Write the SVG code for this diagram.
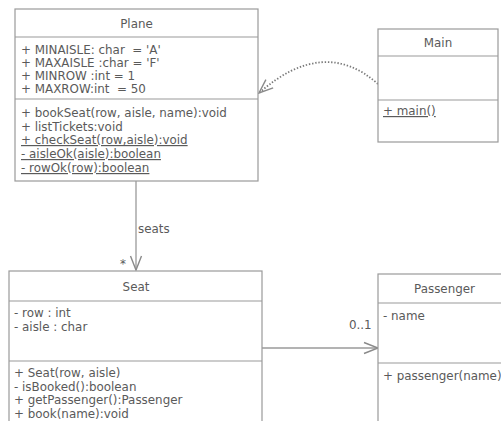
<svg xmlns="http://www.w3.org/2000/svg" width="501" height="421" viewBox="0 0 501 421">
  <style>
    .box { fill: #ffffff; stroke: #9a9a9a; stroke-width: 1.2; }
    .div { stroke: #9a9a9a; stroke-width: 1.2; }
    text { font-family: "DejaVu Sans", Verdana, sans-serif; font-size: 11.9px; fill: #5a5a5a; white-space: pre; }
    .title { text-anchor: middle; }
    .u { text-decoration: underline; text-decoration-skip-ink: none; }
    .conn { fill: none; stroke: #9a9a9a; stroke-width: 1.3; }
    .dep { fill: none; stroke: #7a7a7a; stroke-width: 1.8; stroke-dasharray: 1.4 1.8; }
  </style>
  <defs>
    <marker id="open" markerUnits="userSpaceOnUse" markerWidth="20" markerHeight="16" refX="0" refY="0" viewBox="-16 -8 20 16" orient="auto">
      <path d="M-14,-5.5 L0,0 L-14,5.5" fill="none" stroke="#8a8a8a" stroke-width="1.4"/>
    </marker>
  </defs>

  <rect width="501" height="421" fill="#ffffff"/>

  <!-- connectors -->
  <g id="connectors">
    <path class="dep" d="M378,84 Q324,36 259,93" marker-end="url(#open)"/>
    <line class="conn" x1="136" y1="181" x2="136" y2="270" marker-end="url(#open)"/>
    <text x="138" y="233">seats</text>
    <text x="120" y="268">*</text>
    <line class="conn" x1="262" y1="348" x2="378" y2="348" marker-end="url(#open)"/>
    <text x="349" y="329">0..1</text>
  </g>

  <!-- Plane class -->
  <g id="plane">
    <rect class="box" x="15" y="9" width="243" height="172"/>
    <line class="div" x1="15" y1="37" x2="258" y2="37"/>
    <line class="div" x1="15" y1="99" x2="258" y2="99"/>
    <text class="title" x="136.5" y="28">Plane</text>
    <text x="21" y="54" xml:space="preserve">+ MINAISLE: char  = 'A'</text>
    <text x="21" y="67">+ MAXAISLE :char = 'F'</text>
    <text x="21" y="80">+ MINROW :int = 1</text>
    <text x="21" y="93" xml:space="preserve">+ MAXROW:int  = 50</text>
    <text x="21" y="117">+ bookSeat(row, aisle, name):void</text>
    <text x="21" y="131">+ listTickets:void</text>
    <text class="u" x="21" y="144">+ checkSeat(row,aisle):void</text>
    <text class="u" x="21" y="158">- aisleOk(aisle):boolean</text>
    <text class="u" x="21" y="172">- rowOk(row):boolean</text>
  </g>

  <!-- Main class -->
  <g id="main">
    <rect class="box" x="378" y="29" width="120" height="113"/>
    <line class="div" x1="378" y1="56" x2="498" y2="56"/>
    <line class="div" x1="378" y1="100" x2="498" y2="100"/>
    <text class="title" x="438" y="47">Main</text>
    <text class="u" x="383" y="115">+ main()</text>
  </g>

  <!-- Seat class -->
  <g id="seat">
    <rect class="box" x="9" y="271" width="253" height="170"/>
    <line class="div" x1="9" y1="301" x2="262" y2="301"/>
    <line class="div" x1="9" y1="361" x2="262" y2="361"/>
    <text class="title" x="136" y="291">Seat</text>
    <text x="14" y="317">- row : int</text>
    <text x="14" y="331">- aisle : char</text>
    <text x="14" y="377">+ Seat(row, aisle)</text>
    <text x="14" y="391">- isBooked():boolean</text>
    <text x="14" y="404">+ getPassenger():Passenger</text>
    <text x="14" y="418">+ book(name):void</text>
  </g>

  <!-- Passenger class -->
  <g id="passenger">
    <rect class="box" x="378" y="274" width="140" height="170"/>
    <line class="div" x1="378" y1="303" x2="518" y2="303"/>
    <line class="div" x1="378" y1="363" x2="518" y2="363"/>
    <text class="title" x="444.5" y="293">Passenger</text>
    <text x="383" y="320">- name</text>
    <text x="383" y="380">+ passenger(name)</text>
  </g>
</svg>
